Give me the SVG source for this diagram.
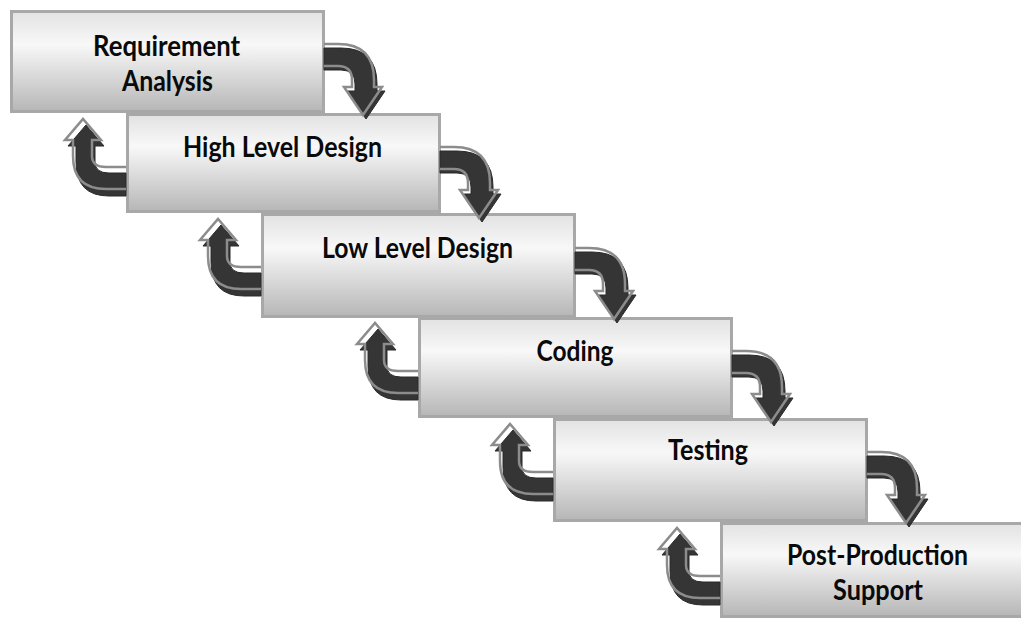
<svg xmlns="http://www.w3.org/2000/svg" xmlns:xlink="http://www.w3.org/1999/xlink" width="1021" height="619" viewBox="0 0 1021 619">
  <style>
    .box { fill: url(#boxGrad); stroke: #a8a8a8; stroke-width: 3; }
    .lbl { font-family: Lato, "Liberation Sans", Arial, sans-serif; font-weight: bold; font-size: 29px; fill: #0a0a0a; text-anchor: middle; }
    .adark { fill: #353535; stroke: #2a2a2a; stroke-width: 1; }
    .aline { fill: none; stroke: #8c8c8c; stroke-width: 2.5; stroke-linejoin: miter; }
  </style>
  <defs>
    <linearGradient id="boxGrad" x1="0" y1="0" x2="0" y2="1">
      <stop offset="0" stop-color="#e2e2e2"/>
      <stop offset="0.33" stop-color="#f8f8f8"/>
      <stop offset="1" stop-color="#b6b6b6"/>
    </linearGradient>
    <path id="fwdDark" d="M0,4 L17,4 Q53,4 53,40 L53,47 L61,47 L42,75 L23,47 L31,47 L31,40 Q31,26 17,26 L0,26 Z"/>
    <path id="fwdLine" d="M0,0 L14,0 Q50,0 50,36 L50,43 L58,43 L39,71 L20,43 L28,43 L28,36 Q28,22 14,22 L0,22"/>
    <path id="backDark" d="M0,59 L-17,59 Q-31,59 -31,48 L-31,32 L-22,32 L-40,11 L-58,32 L-50,32 L-50,48 Q-50,82 -17,82 L0,82 Z"/>
    <path id="backLine" d="M0,53 L-20,53 Q-34,53 -34,42 L-34,26 L-25,26 L-43,5 L-61,26 L-53,26 L-53,42 Q-53,75 -20,75 L0,75"/>
  </defs>

  <g id="node-requirement">
    <rect class="box" x="11.5" y="11.5" width="312" height="100"/>
    <text class="lbl" x="166.5" y="56" textLength="147" lengthAdjust="spacingAndGlyphs">Requirement</text>
    <text class="lbl" x="167.5" y="91" textLength="91" lengthAdjust="spacingAndGlyphs">Analysis</text>
  </g>
  <g id="node-hld">
    <rect class="box" x="127.5" y="114.5" width="312" height="97"/>
    <text class="lbl" x="282.5" y="157" textLength="199" lengthAdjust="spacingAndGlyphs">High Level Design</text>
  </g>
  <g id="node-lld">
    <rect class="box" x="262.5" y="214.5" width="312" height="102"/>
    <text class="lbl" x="417.5" y="258" textLength="191" lengthAdjust="spacingAndGlyphs">Low Level Design</text>
  </g>
  <g id="node-coding">
    <rect class="box" x="419.5" y="318.5" width="312" height="98"/>
    <text class="lbl" x="575" y="361" textLength="77" lengthAdjust="spacingAndGlyphs">Coding</text>
  </g>
  <g id="node-testing">
    <rect class="box" x="554.5" y="419.5" width="312" height="101"/>
    <text class="lbl" x="708" y="460" textLength="80" lengthAdjust="spacingAndGlyphs">Testing</text>
  </g>
  <g id="node-support">
    <rect class="box" x="721.5" y="523.5" width="320" height="93"/>
    <text class="lbl" x="877.5" y="565" textLength="181" lengthAdjust="spacingAndGlyphs">Post-Production</text>
    <text class="lbl" x="878" y="600" textLength="90" lengthAdjust="spacingAndGlyphs">Support</text>
  </g>

  <g id="connectors">
    <g id="fwd-1" transform="translate(324,44)"><use xlink:href="#fwdDark" class="adark"/><use xlink:href="#fwdLine" class="aline"/></g>
    <g id="fwd-2" transform="translate(440,147)"><use xlink:href="#fwdDark" class="adark"/><use xlink:href="#fwdLine" class="aline"/></g>
    <g id="fwd-3" transform="translate(575,248)"><use xlink:href="#fwdDark" class="adark"/><use xlink:href="#fwdLine" class="aline"/></g>
    <g id="fwd-4" transform="translate(732,351)"><use xlink:href="#fwdDark" class="adark"/><use xlink:href="#fwdLine" class="aline"/></g>
    <g id="fwd-5" transform="translate(867,452)"><use xlink:href="#fwdDark" class="adark"/><use xlink:href="#fwdLine" class="aline"/></g>

    <g id="back-2" transform="translate(126,114)"><use xlink:href="#backDark" class="adark"/><use xlink:href="#backLine" class="aline"/></g>
    <g id="back-3" transform="translate(261,214)"><use xlink:href="#backDark" class="adark"/><use xlink:href="#backLine" class="aline"/></g>
    <g id="back-4" transform="translate(418,318)"><use xlink:href="#backDark" class="adark"/><use xlink:href="#backLine" class="aline"/></g>
    <g id="back-5" transform="translate(553,419)"><use xlink:href="#backDark" class="adark"/><use xlink:href="#backLine" class="aline"/></g>
    <g id="back-6" transform="translate(720,523)"><use xlink:href="#backDark" class="adark"/><use xlink:href="#backLine" class="aline"/></g>
  </g>
</svg>
